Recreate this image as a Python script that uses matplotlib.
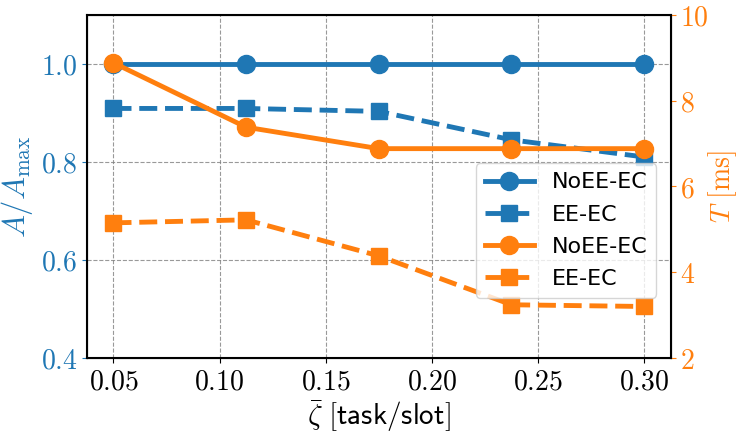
import matplotlib
matplotlib.use('Agg')
import matplotlib.pyplot as plt
from matplotlib.ticker import FuncFormatter

plt.rcParams['mathtext.fontset'] = 'cm'

# arrival rate per slot
zeta = [0.05, 0.1125, 0.175, 0.2375, 0.30]

# normalized accuracy (left axis)
acc_noee = [1.0, 1.0, 1.0, 1.0, 1.0]
acc_ee = [0.909, 0.909, 0.903, 0.845, 0.81]

# latency in ms (right axis)
lat_noee = [8.88, 7.38, 6.88, 6.88, 6.88]
lat_ee = [5.15, 5.22, 4.38, 3.24, 3.20]

labels = ['NoEE-EC', 'EE-EC', 'NoEE-EC', 'EE-EC']

blue = '#1f77b4'
orange = '#ff7f0e'

fig = plt.figure(figsize=(7.37, 4.36), dpi=100)
ax = fig.add_axes([0.118, 0.179, 0.792, 0.787])
ax2 = ax.twinx()

lw = 3.5
ms = 13
l1, = ax.plot(zeta, acc_noee, '-', marker='o', color=blue, lw=lw, ms=ms)
l2, = ax.plot(zeta, acc_ee, '--', marker='s', color=blue, lw=lw, ms=ms - 1)
l3, = ax2.plot(zeta, lat_noee, '-', marker='o', color=orange, lw=lw, ms=ms)
l4, = ax2.plot(zeta, lat_ee, '--', marker='s', color=orange, lw=lw, ms=ms - 1)

ax.set_ylim(0.4, 1.1)
ax.set_yticks([0.4, 0.6, 0.8, 1.0])
ax2.set_ylim(2, 10)
ax2.set_yticks([2, 4, 6, 8, 10])
ax.set_xticks([0.05, 0.10, 0.15, 0.20, 0.25, 0.30])

ax.xaxis.set_major_formatter(FuncFormatter(lambda v, p: '$%.2f$' % v))
ax.yaxis.set_major_formatter(FuncFormatter(lambda v, p: '$%.1f$' % v))
ax2.yaxis.set_major_formatter(FuncFormatter(lambda v, p: '$%d$' % v))

ax.tick_params(axis='x', labelsize=20, colors='black')
ax.tick_params(axis='y', labelsize=20, colors=blue)
ax2.tick_params(axis='y', labelsize=20, colors=orange)

ax.grid(True, linestyle='--', color='gray', lw=0.8, alpha=0.8)

ax.set_xlabel(r'$\bar{\zeta}\ \mathsf{[task/slot]}$', fontsize=21, labelpad=2)
ax.set_ylabel(r'$A/A_{\max}$', fontsize=22, color=blue, labelpad=4)
ax2.set_ylabel(r'$T\ [\mathrm{ms}]$', fontsize=20, color=orange)
ax2.yaxis.set_label_coords(1.06, 0.5)

for sp in ax2.spines.values():
    sp.set_linewidth(1.5)

ax2.legend([l1, l2, l3, l4], labels, loc='lower right',
           bbox_to_anchor=(0.975, 0.175), borderaxespad=0, fontsize=16,
           handlelength=2.2, labelspacing=0.55)

fig.savefig('out.png', dpi=100)
